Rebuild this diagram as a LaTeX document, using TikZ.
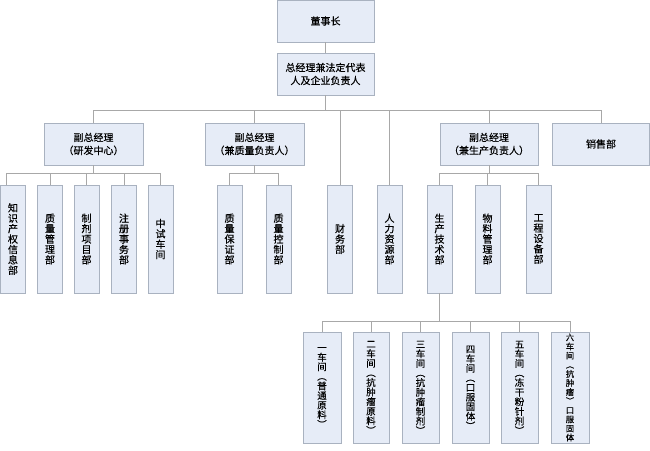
\documentclass[tikz,border=0pt]{standalone}
\usepackage{fontspec}
\newfontfamily\cjk[FakeBold=0.4]{Noto Sans CJK SC}
\definecolor{boxfill}{HTML}{E6ECF7}
\definecolor{boxline}{HTML}{A9B2C0}
\definecolor{linecol}{HTML}{A8A8A8}
\begin{document}
\begin{tikzpicture}[x=1pt,y=1pt,
  box/.style={draw=boxline, fill=boxfill, line width=0.9pt, inner sep=0pt, align=center,
    font=\cjk\fontsize{10}{13}\selectfont},
  hbox/.style={box, minimum width=97pt, minimum height=42pt},
  vbox/.style={box, minimum width=25pt, minimum height=108pt,
    font=\cjk\fontsize{10}{10.4}\selectfont},
  wbox/.style={box, minimum width=37pt, minimum height=111pt,
    font=\cjk\fontsize{9.5}{9.6}\selectfont},
  conn/.style={draw=linecol, line width=0.8pt}]
\useasboundingbox (0,0) rectangle (650,-450);
% top
\node[hbox] (ds) at (325.5,-21) {董事长};
\node[hbox] (zjl) at (325.5,-74) {总经理兼法定代表\\人及企业负责人};
% level 2
\node[hbox, minimum width=99pt] (f1) at (93.5,-144) {副总经理\\（研发中心）};
\node[hbox, minimum width=99pt] (f2) at (254.5,-144) {副总经理\\（兼质量负责人）};
\node[hbox, minimum width=98pt] (f3) at (489,-144) {副总经理\\（兼生产负责人）};
\node[hbox, minimum width=97pt] (xs) at (601,-144) {销售部};
% level 3
\node[vbox] (a1) at (13,-239) {知\\识\\产\\权\\信\\息\\部};
\node[vbox] (a2) at (50,-239) {质\\量\\管\\理\\部};
\node[vbox] (a3) at (86.5,-239) {制\\剂\\项\\目\\部};
\node[vbox] (a4) at (124,-239) {注\\册\\事\\务\\部};
\node[vbox] (a5) at (160.5,-239) {中\\试\\车\\间};
\node[vbox] (b1) at (229.5,-239) {质\\量\\保\\证\\部};
\node[vbox] (b2) at (278.5,-239) {质\\量\\控\\制\\部};
\node[vbox] (c1) at (340,-239) {财\\务\\部};
\node[vbox] (c2) at (389.5,-239) {人\\力\\资\\源\\部};
\node[vbox] (d1) at (439.5,-239) {生\\产\\技\\术\\部};
\node[vbox] (d2) at (487.5,-239) {物\\料\\管\\理\\部};
\node[vbox] (d3) at (538.5,-239) {工\\程\\设\\备\\部};
% workshops
\node[wbox, minimum width=38pt] (w1) at (322,-387.5) {一\\车\\间\\︵\\普\\通\\原\\料\\︶};
\node[wbox, minimum width=36pt] (w2) at (371,-387.5) {二\\车\\间\\︵\\抗\\肿\\瘤\\原\\料\\︶};
\node[wbox] (w3) at (420.5,-387.5) {三\\车\\间\\︵\\抗\\肿\\瘤\\制\\剂\\︶};
\node[wbox] (w4) at (470.5,-387.5) {四\\车\\间\\︵\\口\\服\\固\\体\\︶};
\node[wbox] (w5) at (519.5,-387.5) {五\\车\\间\\︵\\冻\\干\\粉\\针\\剂\\︶};
\node[wbox, minimum width=38pt, font=\cjk\fontsize{8.3}{9.1}\selectfont] (w6) at (570,-387.5) {六\\车\\间\\︵\\抗\\肿\\瘤\\︶\\口\\服\\固\\体};
% buses
\coordinate (bus) at (325.5,-110);
\coordinate (busA) at (93.5,-173);
\coordinate (busB) at (254.5,-173);
\coordinate (busD) at (489,-173);
\coordinate (busW) at (439.5,-321);
% connectors
\draw[conn] (ds.south) -- (zjl.north);
\draw[conn] (zjl.south) -- (bus);
\draw[conn] (f1.north |- bus) -- (xs.north |- bus);
\foreach \n in {f1,f2,f3,xs} \draw[conn] (\n.north |- bus) -- (\n.north);
\foreach \n in {c1,c2} \draw[conn] (\n.north |- bus) -- (\n.north);
% group A
\draw[conn] (f1.south) -- (busA);
\draw[conn] ([xshift=-7pt]a1.north |- busA) -- (a5.north |- busA);
\draw[conn] ([xshift=-7pt]a1.north |- busA) -- ([xshift=-7pt]a1.north);
\foreach \n in {a2,a3,a4,a5} \draw[conn] (\n.north |- busA) -- (\n.north);
% group B
\draw[conn] (f2.south) -- (busB);
\draw[conn] (b1.north |- busB) -- (b2.north |- busB);
\foreach \n in {b1,b2} \draw[conn] (\n.north |- busB) -- (\n.north);
% group D
\draw[conn] (f3.south) -- (busD);
\draw[conn] (d1.north |- busD) -- (d3.north |- busD);
\foreach \n in {d1,d2,d3} \draw[conn] (\n.north |- busD) -- (\n.north);
% workshops
\draw[conn] (d1.south) -- (busW);
\draw[conn] (w1.north |- busW) -- (w6.north |- busW);
\foreach \n in {w1,w2,w3,w4,w5,w6} \draw[conn] (\n.north |- busW) -- (\n.north);
\end{tikzpicture}
\end{document}
